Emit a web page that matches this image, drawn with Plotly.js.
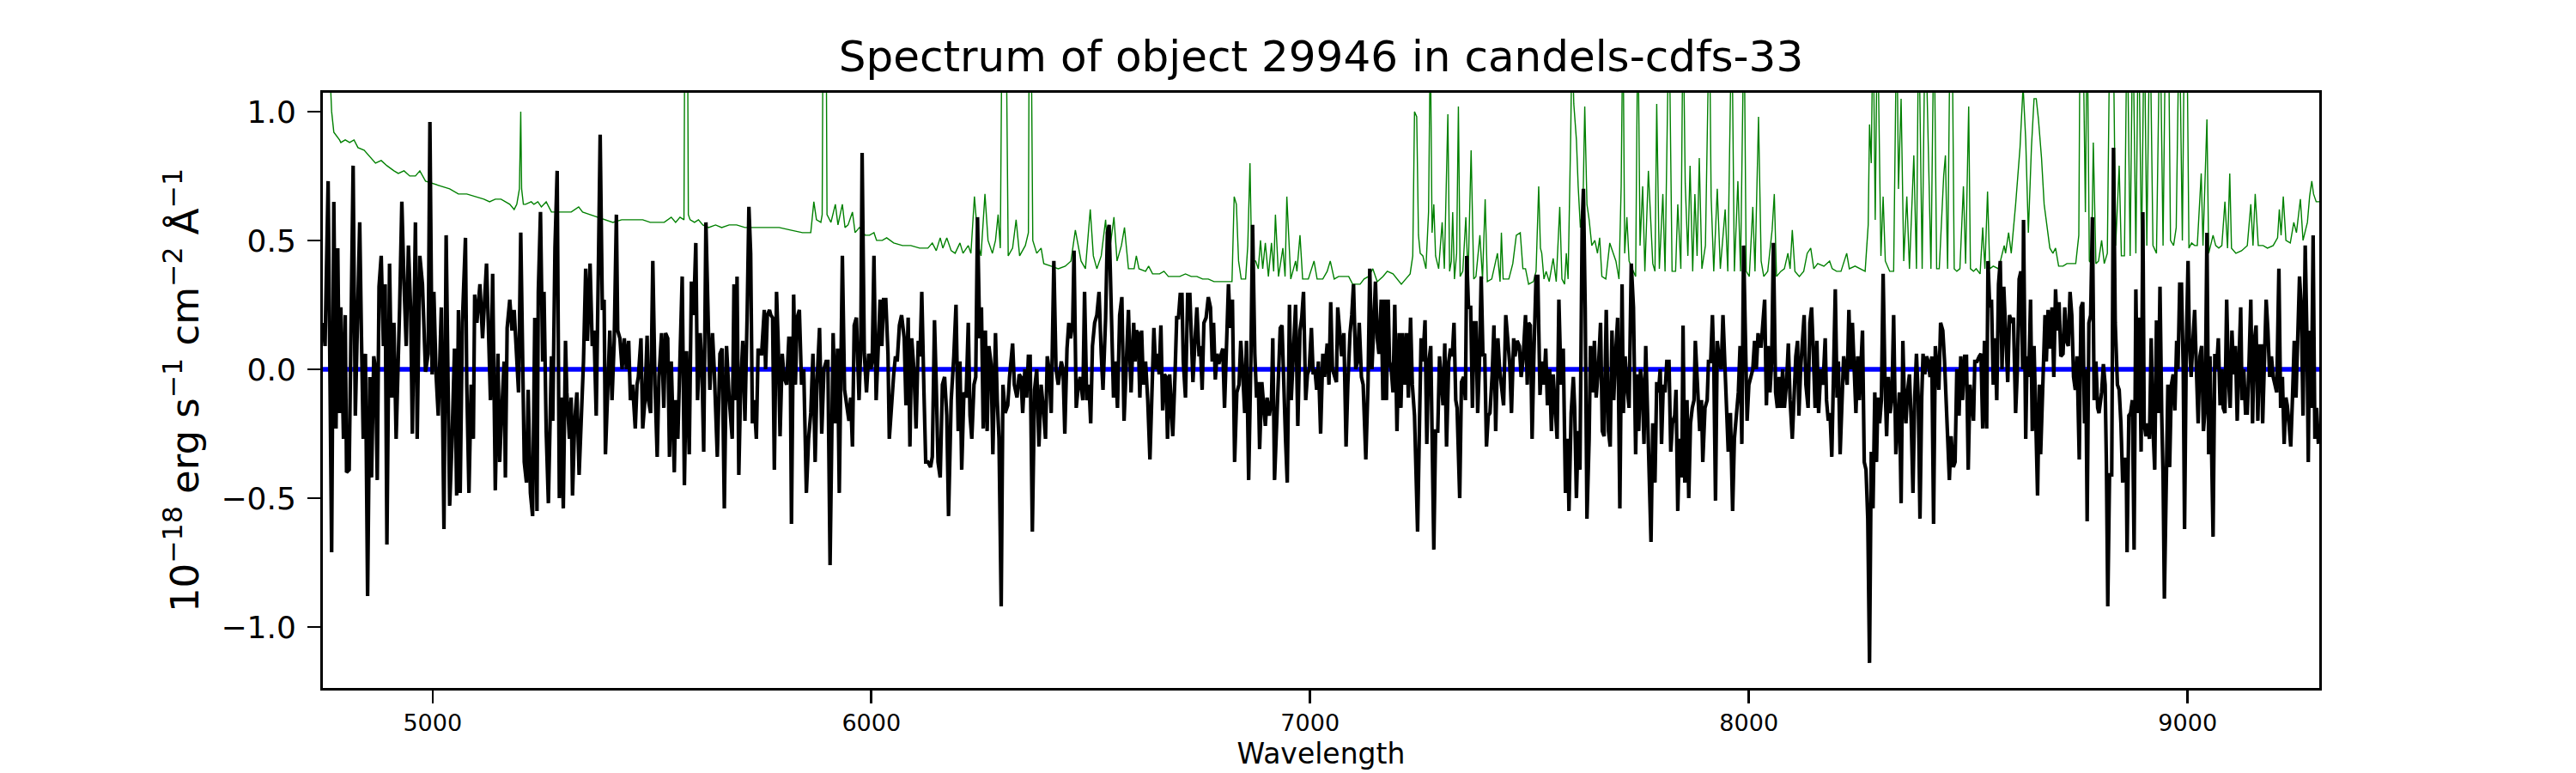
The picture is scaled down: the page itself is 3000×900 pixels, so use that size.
<!DOCTYPE html>
<html>
<head>
<meta charset="utf-8">
<script src="https://cdn.plot.ly/plotly-3.0.1.min.js"></script>
<style>
  html, body { margin: 0; padding: 0; background: #fff; }
  #chart { width: 3000px; height: 900px; }
</style>
</head>
<body>
<div id="chart"></div>
<script>
/* Flux readings, [wavelength, flux] in five pieces */
const flux1 = [
  [4751, 0.18], [4755, 0.09], [4762, 0.73], [4767, -0.23], [4770, -0.71], [4775, 0.65], [4780, -0.23], [4784, 0.47],
  [4788, -0.17], [4791, 0.24], [4797, -0.27], [4801, 0.21], [4804, -0.40], [4810, -0.39], [4814, 0.24], [4819, 0.79],
  [4824, -0.18], [4829, 0.24], [4834, 0.57], [4838, 0.12], [4842, -0.27], [4847, 0.06], [4852, -0.88], [4857, -0.03],
  [4861, -0.42], [4866, 0.05], [4870, 0.0], [4874, -0.43], [4878, 0.32], [4883, 0.44], [4888, 0.09], [4892, 0.33],
  [4896, -0.68], [4902, 0.41], [4907, -0.11], [4912, 0.18], [4917, -0.27], [4925, 0.24], [4930, 0.65], [4935, 0.33],
  [4940, 0.09], [4945, 0.48], [4950, 0.24], [4954, -0.25], [4961, 0.57], [4965, -0.27], [4971, 0.44], [4977, 0.33],
  [4984, -0.01], [4990, 0.06], [4994, 0.96], [4999, -0.02], [5003, 0.30], [5008, -0.02], [5013, -0.18], [5020, 0.24],
  [5026, -0.62], [5031, 0.52], [5036, -0.24], [5039, -0.53], [5044, -0.30], [5050, 0.08], [5055, -0.49], [5059, 0.23],
  [5063, -0.48], [5068, 0.18], [5075, 0.51], [5078, -0.06], [5083, -0.48], [5088, -0.06], [5093, -0.27], [5096, 0.29],
  [5101, 0.18], [5108, 0.33], [5114, 0.12], [5117, 0.24], [5123, 0.41], [5127, 0.18], [5132, -0.12], [5137, 0.37],
  [5143, -0.47], [5149, 0.06], [5153, -0.36], [5156, -0.23], [5163, 0.03], [5166, -0.42], [5170, 0.16], [5176, 0.27],
  [5181, 0.15], [5186, 0.23], [5191, 0.05], [5196, -0.09], [5201, 0.53], [5205, -0.03], [5209, -0.36], [5214, -0.44],
  [5218, -0.08], [5223, -0.48], [5228, -0.57], [5233, 0.20], [5238, -0.55], [5241, 0.30], [5246, 0.61], [5251, 0.03],
  [5254, 0.30], [5259, -0.24], [5264, -0.52], [5271, 0.05], [5274, -0.20], [5279, 0.47], [5284, 0.77], [5289, -0.50],
  [5293, -0.11], [5298, -0.54], [5303, 0.11], [5306, -0.09], [5312, -0.27], [5316, -0.11], [5319, -0.49], [5324, -0.20],
  [5329, -0.09], [5334, -0.41], [5339, -0.20], [5344, 0.03], [5349, 0.39], [5353, 0.11], [5359, 0.41], [5364, 0.09],
  [5368, 0.15], [5373, -0.18], [5378, 0.40], [5382, 0.91], [5387, 0.23], [5391, 0.27], [5394, -0.33], [5399, -0.06],
  [5404, 0.15], [5409, -0.12], [5414, 0.11], [5419, 0.60], [5422, 0.15], [5427, 0.12], [5432, 0.0], [5437, 0.12],
  [5442, 0.0], [5447, 0.11], [5451, -0.12], [5456, -0.06], [5462, -0.23], [5466, -0.06], [5469, -0.03], [5475, 0.12],
  [5479, -0.23], [5484, -0.12], [5489, 0.13], [5492, -0.12], [5497, -0.17], [5502, 0.42], [5507, -0.06], [5512, -0.34],
  [5516, -0.03], [5522, 0.14], [5527, -0.15], [5531, 0.14], [5536, 0.12], [5540, -0.34], [5544, 0.03], [5551, -0.40],
  [5554, -0.12], [5559, -0.27], [5564, 0.03], [5569, 0.36], [5574, -0.45], [5579, 0.07], [5585, -0.33], [5590, 0.34],
  [5595, 0.21], [5600, 0.49], [5604, -0.12], [5610, 0.14], [5614, 0.0], [5618, -0.32], [5623, 0.57], [5627, 0.27],
  [5632, -0.08], [5638, 0.14], [5642, 0.0], [5649, -0.34], [5655, 0.06], [5660, 0.08], [5665, -0.54], [5670, 0.09],
  [5676, -0.11],
];

const flux2 = [
  [5683, -0.27], [5687, 0.33], [5691, -0.12], [5694, 0.36], [5698, -0.41], [5702, -0.08], [5707, 0.11], [5712, -0.20],
  [5717, 0.21], [5721, 0.63], [5725, 0.45], [5729, -0.21], [5733, -0.12], [5738, -0.27], [5742, 0.08], [5745, 0.06],
  [5750, 0.06], [5756, 0.23], [5759, 0.0], [5763, 0.21], [5768, 0.23], [5771, 0.21], [5775, 0.20], [5779, -0.39],
  [5784, 0.30], [5788, 0.09], [5792, -0.26], [5797, 0.06], [5801, -0.03], [5807, -0.06], [5812, 0.12], [5815, 0.12],
  [5818, -0.60], [5823, 0.29], [5827, -0.06], [5831, 0.20], [5836, 0.23], [5841, -0.06], [5846, 0.0], [5852, -0.48],
  [5857, -0.27], [5862, -0.17], [5867, 0.06], [5872, -0.36], [5876, -0.06], [5882, 0.16], [5887, -0.25], [5892, 0.0],
  [5897, 0.03], [5901, 0.03], [5906, -0.76], [5913, 0.14], [5918, -0.21], [5923, 0.08], [5927, -0.48], [5934, 0.44],
  [5939, -0.08], [5944, -0.15], [5949, -0.20], [5953, -0.11], [5957, -0.30], [5961, 0.17], [5966, 0.20], [5972, -0.12],
  [5976, 0.09], [5979, 0.84], [5984, 0.06], [5989, -0.09], [5994, 0.06], [5999, 0.0], [6002, 0.03], [6006, 0.44],
  [6011, -0.12], [6015, 0.05], [6020, 0.27], [6024, 0.09], [6028, 0.27], [6033, 0.27], [6038, 0.06], [6041, -0.27],
  [6046, -0.12], [6051, -0.02], [6055, 0.05], [6059, 0.03], [6064, 0.17], [6069, 0.21], [6075, 0.12], [6079, -0.14],
  [6084, 0.20], [6088, -0.30], [6092, 0.12], [6097, 0.0], [6102, -0.23], [6107, 0.11], [6111, 0.05], [6115, 0.30],
  [6120, -0.09], [6124, -0.36], [6129, -0.36], [6135, -0.38], [6139, -0.34], [6144, 0.19], [6148, -0.06], [6152, -0.36],
  [6157, -0.42], [6162, -0.06], [6167, -0.03], [6172, -0.18], [6176, -0.57], [6182, -0.12], [6188, 0.05], [6193, 0.25],
  [6198, -0.24], [6202, 0.03], [6206, -0.39], [6211, -0.09], [6216, -0.11], [6221, 0.18], [6225, -0.18], [6229, -0.27],
  [6234, -0.06], [6238, -0.03], [6242, 0.59], [6247, 0.12], [6251, 0.24], [6255, -0.23], [6260, 0.15], [6264, -0.24],
  [6268, 0.09], [6273, 0.02], [6277, -0.33], [6283, 0.14], [6287, -0.12], [6291, -0.27], [6296, -0.92], [6300, -0.06],
  [6305, -0.17], [6311, -0.14], [6315, -0.03], [6322, 0.10], [6326, -0.06], [6332, -0.11], [6337, -0.02], [6341, -0.03],
  [6345, -0.17], [6350, 0.0], [6354, -0.11], [6358, 0.05], [6362, 0.05], [6367, -0.63], [6372, -0.08], [6377, 0.0],
  [6382, -0.30], [6387, -0.06], [6392, -0.15], [6397, -0.27], [6401, 0.05], [6405, 0.0], [6410, -0.17], [6416, 0.42],
  [6421, 0.0], [6426, -0.06], [6433, 0.03], [6437, 0.0], [6441, -0.25], [6446, 0.08], [6450, 0.18], [6454, 0.12],
  [6459, 0.18], [6462, 0.46], [6467, -0.15], [6472, -0.06], [6476, -0.03], [6482, -0.12], [6486, 0.30], [6491, -0.12],
  [6496, -0.06], [6500, -0.21], [6504, 0.09], [6509, 0.18], [6514, 0.21], [6519, 0.30], [6524, 0.06], [6528, -0.08],
  [6534, 0.20], [6538, 0.53], [6542, 0.56], [6547, 0.17], [6552, -0.11], [6556, 0.03], [6561, -0.15], [6566, 0.21],
  [6571, 0.28], [6576, -0.20], [6581, 0.03], [6586, 0.23], [6592, -0.09], [6598, 0.18],
];

const flux3 = [
  [6601, 0.03], [6604, 0.15], [6608, 0.14], [6612, -0.11], [6616, 0.15], [6620, -0.06], [6625, 0.03], [6630, -0.12],
  [6635, -0.35], [6640, -0.06], [6644, 0.16], [6648, 0.0], [6652, 0.06], [6656, -0.02], [6660, 0.17], [6664, -0.16],
  [6668, -0.02], [6672, -0.03], [6675, -0.27], [6680, -0.02], [6683, -0.15], [6687, -0.26], [6692, -0.03], [6696, 0.20],
  [6700, 0.20], [6704, 0.29], [6708, 0.29], [6711, 0.03], [6716, -0.11], [6721, 0.29], [6726, 0.29], [6729, 0.15],
  [6733, -0.05], [6737, 0.09], [6742, 0.24], [6747, 0.05], [6750, 0.09], [6754, -0.08], [6758, 0.18], [6763, 0.20],
  [6768, 0.28], [6773, 0.24], [6777, 0.03], [6780, 0.18], [6784, -0.04], [6788, 0.06], [6792, 0.02], [6796, 0.05],
  [6801, 0.08], [6805, -0.15], [6809, 0.05], [6814, 0.33], [6818, 0.16], [6823, 0.27], [6828, -0.36], [6833, -0.09],
  [6838, -0.06], [6842, 0.11], [6846, 0.0], [6851, -0.17], [6855, 0.11], [6860, -0.43], [6865, 0.03], [6869, 0.56],
  [6874, 0.06], [6878, -0.11], [6882, -0.05], [6885, -0.31], [6890, -0.05], [6894, -0.12], [6898, -0.22], [6902, -0.11],
  [6907, -0.18], [6912, -0.12], [6915, 0.12], [6919, -0.43], [6923, -0.24], [6928, 0.0], [6932, 0.16], [6936, 0.17],
  [6940, -0.11], [6944, -0.27], [6948, -0.44], [6953, 0.25], [6957, -0.12], [6962, 0.05], [6967, 0.25], [6972, -0.22],
  [6977, 0.15], [6981, 0.20], [6985, 0.30], [6990, -0.12], [6994, -0.02], [6998, 0.0], [7003, 0.16], [7007, -0.02],
  [7011, 0.0], [7015, -0.08], [7019, 0.03], [7024, -0.25], [7029, 0.06], [7033, -0.03], [7039, 0.10], [7043, -0.06],
  [7047, 0.26], [7051, 0.0], [7056, -0.03], [7060, -0.05], [7063, 0.24], [7068, 0.12], [7072, 0.05], [7077, 0.14],
  [7082, -0.30], [7086, -0.06], [7091, 0.14], [7095, 0.21], [7099, 0.33], [7104, 0.0], [7108, 0.03], [7112, 0.18],
  [7117, -0.03], [7121, -0.06], [7127, -0.35], [7132, -0.06], [7136, 0.39], [7141, 0.0], [7145, 0.19], [7149, 0.34],
  [7153, 0.12], [7157, 0.06], [7162, 0.27], [7166, -0.12], [7170, 0.27], [7174, -0.12], [7178, 0.27], [7181, 0.03],
  [7185, 0.0], [7189, -0.09], [7193, 0.25], [7198, -0.24], [7203, 0.14], [7207, -0.15], [7211, 0.14], [7215, -0.06],
  [7220, 0.14], [7224, -0.11], [7229, 0.20], [7233, -0.06], [7238, -0.18], [7241, -0.39], [7245, -0.63], [7249, -0.24],
  [7253, 0.12], [7257, 0.03], [7262, 0.19], [7266, -0.29], [7270, 0.02], [7275, 0.09], [7278, -0.29], [7282, -0.70],
  [7286, -0.24], [7291, -0.24], [7295, 0.05], [7299, -0.06], [7303, -0.14], [7307, 0.10], [7311, -0.30], [7316, 0.03],
  [7320, 0.08], [7324, 0.05], [7328, 0.18], [7332, -0.12], [7335, -0.15], [7341, -0.50], [7345, -0.05], [7350, -0.03],
  [7354, -0.12], [7357, 0.44], [7361, 0.24], [7366, 0.24], [7370, -0.15], [7374, 0.18], [7378, 0.18], [7382, -0.17],
  [7386, 0.03], [7390, 0.36], [7394, 0.05], [7398, 0.06], [7402, -0.30], [7406, -0.18], [7410, -0.17], [7415, -0.02],
  [7419, 0.17], [7423, -0.24], [7428, 0.12], [7432, 0.0], [7436, -0.06], [7441, -0.14], [7446, 0.21], [7451, 0.12],
  [7455, 0.02], [7459, -0.17], [7464, 0.12], [7467, 0.05], [7472, 0.11], [7477, 0.09], [7481, -0.03], [7485, 0.03],
  [7491, 0.21], [7495, -0.06], [7498, 0.18], [7502, 0.17], [7506, -0.27], [7510, 0.05], [7515, 0.36],
];

const flux4 = [
  [7519, 0.36], [7524, -0.10], [7528, 0.03], [7533, -0.06], [7537, 0.08], [7541, -0.14], [7546, 0.0], [7550, -0.24],
  [7554, -0.02], [7559, -0.15], [7563, -0.27], [7567, 0.27], [7572, -0.06], [7577, 0.08], [7582, -0.48], [7587, -0.27],
  [7590, -0.55], [7595, -0.17], [7600, -0.03], [7603, -0.15], [7607, -0.50], [7611, -0.24], [7615, -0.39], [7620, 0.55],
  [7623, 0.70], [7627, 0.24], [7631, -0.58], [7636, -0.27], [7639, 0.09], [7644, -0.09], [7648, 0.11], [7652, -0.11],
  [7657, 0.0], [7662, 0.18], [7666, -0.24], [7670, -0.26], [7675, 0.23], [7680, -0.24], [7684, -0.30], [7688, 0.15],
  [7692, -0.12], [7696, 0.05], [7701, 0.20], [7706, -0.54], [7711, 0.33], [7714, -0.17], [7718, 0.05], [7722, -0.06],
  [7727, -0.15], [7732, 0.41], [7737, 0.24], [7742, -0.33], [7745, -0.02], [7749, -0.24], [7753, 0.0], [7757, -0.06],
  [7761, -0.29], [7765, 0.09], [7770, -0.23], [7773, -0.29], [7777, -0.67], [7781, -0.21], [7786, -0.44], [7790, -0.05],
  [7794, -0.09], [7798, 0.0], [7801, -0.29], [7805, -0.06], [7809, -0.09], [7813, 0.03], [7818, 0.03], [7822, -0.32],
  [7826, -0.21], [7831, -0.18], [7834, -0.08], [7838, -0.55], [7842, -0.27], [7847, -0.42], [7850, 0.17], [7854, -0.44],
  [7859, -0.12], [7863, -0.50], [7867, -0.21], [7871, -0.15], [7875, -0.12], [7878, 0.11], [7884, -0.09], [7888, -0.24],
  [7892, -0.12], [7895, -0.36], [7900, -0.15], [7905, -0.12], [7908, 0.03], [7913, 0.03], [7917, 0.21], [7920, 0.03],
  [7924, -0.51], [7928, 0.11], [7933, 0.03], [7937, 0.0], [7941, 0.21], [7945, 0.03], [7949, -0.21], [7953, -0.32],
  [7958, -0.17], [7963, -0.55], [7967, -0.27], [7972, -0.15], [7976, -0.09], [7980, 0.09], [7984, -0.29], [7988, 0.48],
  [7992, 0.05], [7996, -0.20], [8000, -0.06], [8004, -0.03], [8009, 0.0], [8013, 0.11], [8017, 0.0], [8021, 0.14],
  [8024, 0.09], [8028, 0.09], [8032, 0.18], [8036, 0.27], [8040, -0.14], [8044, 0.09], [8048, -0.09], [8052, 0.03],
  [8056, 0.49], [8061, -0.09], [8065, -0.15], [8069, -0.03], [8073, -0.15], [8077, 0.0], [8081, -0.15], [8086, -0.05],
  [8090, 0.10], [8094, -0.12], [8099, -0.27], [8103, -0.06], [8107, 0.05], [8111, 0.11], [8114, -0.18], [8118, 0.0],
  [8122, 0.12], [8126, 0.21], [8130, -0.06], [8135, -0.15], [8139, 0.18], [8143, 0.24], [8147, 0.06], [8151, -0.15],
  [8155, 0.11], [8159, -0.17], [8164, 0.0], [8169, -0.06], [8174, 0.12], [8177, -0.12], [8181, -0.20], [8185, -0.17],
  [8189, -0.34], [8193, 0.05], [8197, 0.31], [8201, -0.11], [8204, 0.03], [8208, -0.33], [8212, -0.09], [8216, 0.05],
  [8220, 0.0], [8224, -0.06], [8228, 0.23], [8232, 0.0], [8236, 0.18], [8240, 0.0], [8244, -0.17], [8248, 0.05],
  [8252, -0.12], [8255, 0.0], [8259, 0.15], [8263, -0.36], [8267, -0.39], [8271, -0.58], [8275, -1.14], [8279, -0.32],
  [8283, -0.54], [8287, -0.09], [8291, -0.36], [8294, -0.11], [8298, -0.21], [8302, -0.12], [8306, 0.37], [8310, -0.03],
  [8314, -0.26], [8318, -0.03], [8322, -0.17], [8326, -0.11], [8330, 0.21], [8335, -0.33], [8339, -0.17], [8343, -0.09],
  [8347, -0.52], [8351, 0.11], [8354, -0.09], [8358, -0.21], [8362, -0.08], [8366, -0.02], [8370, -0.20], [8374, -0.48],
  [8378, -0.11], [8382, 0.06], [8386, -0.11], [8390, -0.58], [8394, -0.11], [8397, 0.06], [8401, -0.02], [8405, 0.05],
  [8409, 0.03], [8413, -0.03], [8417, 0.05], [8421, -0.60], [8425, 0.09], [8429, 0.0], [8433, -0.08], [8437, 0.18],
];

const flux5 = [
  [8442, 0.15], [8446, 0.03], [8452, -0.27], [8457, -0.43], [8461, -0.26], [8466, -0.38], [8470, -0.36], [8474, 0.0],
  [8479, -0.18], [8483, 0.05], [8487, -0.12], [8492, 0.05], [8496, 0.05], [8500, -0.39], [8504, -0.06], [8508, -0.12],
  [8512, -0.20], [8515, 0.03], [8520, 0.03], [8525, 0.05], [8529, 0.06], [8533, -0.23], [8537, 0.11], [8542, -0.23],
  [8545, 0.42], [8549, 0.24], [8553, 0.27], [8557, -0.06], [8561, 0.12], [8565, -0.12], [8569, 0.33], [8573, 0.42],
  [8577, 0.0], [8581, 0.32], [8585, 0.18], [8590, -0.05], [8594, 0.21], [8599, 0.18], [8603, 0.20], [8608, -0.17],
  [8612, 0.0], [8616, 0.35], [8620, 0.38], [8624, 0.0], [8626, 0.58], [8631, -0.27], [8634, 0.05], [8638, -0.03],
  [8642, 0.27], [8646, -0.24], [8650, 0.09], [8654, -0.27], [8658, -0.49], [8662, -0.06], [8665, -0.33], [8670, -0.06],
  [8675, 0.21], [8678, 0.03], [8682, 0.23], [8686, 0.08], [8691, 0.24], [8695, -0.03], [8699, 0.31], [8703, 0.15],
  [8707, 0.26], [8711, 0.05], [8716, 0.06], [8720, 0.24], [8724, 0.11], [8728, 0.09], [8732, 0.30], [8736, 0.21],
  [8740, -0.03], [8744, -0.08], [8748, 0.05], [8753, -0.35], [8757, 0.24], [8761, 0.26], [8765, -0.21], [8768, 0.0],
  [8771, -0.59], [8775, 0.18], [8779, 0.21], [8783, 0.59], [8787, -0.12], [8791, 0.03], [8795, -0.15], [8798, -0.17],
  [8804, -0.09], [8808, 0.02], [8812, -0.06], [8815, -0.38], [8818, -0.92], [8822, -0.41], [8827, -0.41], [8831, 0.86],
  [8835, 0.18], [8840, -0.06], [8844, -0.08], [8848, -0.21], [8852, -0.44], [8856, -0.35], [8860, -0.35], [8862, -0.71],
  [8866, -0.18], [8870, -0.17], [8874, -0.12], [8878, -0.70], [8882, 0.31], [8886, -0.17], [8890, 0.20], [8894, -0.32],
  [8898, 0.61], [8901, -0.21], [8905, -0.26], [8909, -0.21], [8913, -0.27], [8917, 0.12], [8921, -0.23], [8925, -0.39],
  [8929, 0.19], [8933, -0.17], [8937, 0.32], [8941, -0.18], [8944, -0.41], [8947, -0.89], [8951, -0.42], [8955, -0.06],
  [8959, -0.38], [8963, -0.06], [8967, -0.02], [8971, -0.16], [8975, 0.11], [8978, 0.0], [8982, 0.33], [8986, 0.33],
  [8990, 0.0], [8993, -0.62], [8997, 0.09], [9001, 0.42], [9004, 0.11], [9008, -0.03], [9012, 0.11], [9016, 0.23],
  [9020, 0.0], [9024, -0.21], [9028, 0.05], [9032, 0.09], [9036, -0.24], [9040, -0.15], [9044, 0.53], [9048, -0.33],
  [9051, 0.05], [9055, -0.39], [9058, -0.65], [9062, 0.06], [9066, 0.0], [9070, 0.12], [9074, -0.14], [9078, 0.0],
  [9081, -0.15], [9085, -0.17], [9089, 0.27], [9093, -0.03], [9097, -0.15], [9101, 0.15], [9105, -0.02], [9109, 0.09],
  [9113, -0.20], [9117, 0.03], [9121, 0.24], [9124, -0.12], [9128, 0.0], [9132, -0.17], [9136, -0.17], [9140, 0.03],
  [9144, 0.27], [9148, -0.21], [9152, 0.11], [9156, 0.17], [9160, -0.20], [9164, 0.09], [9168, 0.09], [9171, -0.21],
  [9175, 0.05], [9179, 0.27], [9183, 0.15], [9187, -0.03], [9191, 0.05], [9195, -0.03], [9199, -0.06], [9203, -0.09],
  [9208, 0.39], [9212, -0.15], [9216, -0.03], [9220, -0.29], [9224, -0.11], [9227, -0.14], [9231, -0.21], [9235, -0.30],
  [9239, -0.11], [9243, 0.11], [9247, -0.11], [9251, 0.12], [9255, 0.36], [9259, 0.24], [9263, -0.18], [9268, 0.48],
  [9272, 0.12], [9275, -0.36], [9278, 0.15], [9282, -0.15], [9286, 0.52], [9290, -0.27], [9294, -0.15], [9298, -0.29],
];

/* Noise spectrum (green), [wavelength, sigma]; sky lines run off the top */
const noise1 = [
  [4751, 1.3], [4765, 1.2], [4770, 1.0], [4775, 0.92], [4788, 0.89], [4791, 0.88], [4801, 0.89], [4811, 0.88],
  [4821, 0.89], [4830, 0.86], [4844, 0.85], [4860, 0.82], [4870, 0.80], [4883, 0.81], [4896, 0.79], [4912, 0.77],
  [4922, 0.76], [4935, 0.77], [4948, 0.75], [4961, 0.75], [4971, 0.77], [4984, 0.73], [5000, 0.72], [5020, 0.71],
  [5039, 0.70], [5059, 0.68], [5078, 0.68], [5098, 0.67], [5117, 0.66], [5130, 0.65], [5143, 0.66], [5156, 0.66],
  [5176, 0.64], [5186, 0.62], [5192, 0.64], [5198, 0.70], [5201, 1.0], [5203, 0.70], [5207, 0.64], [5212, 0.64],
  [5225, 0.65], [5231, 0.64], [5240, 0.65], [5248, 0.63], [5259, 0.65], [5271, 0.61], [5287, 0.61], [5306, 0.61],
  [5316, 0.61], [5333, 0.63], [5342, 0.61], [5359, 0.60], [5375, 0.59], [5391, 0.58], [5411, 0.57], [5431, 0.58],
  [5447, 0.58], [5463, 0.58], [5479, 0.58], [5496, 0.57], [5512, 0.57], [5528, 0.57], [5544, 0.59], [5554, 0.57],
  [5564, 0.59], [5573, 0.58], [5575, 1.4], [5578, 1.2], [5581, 1.4], [5583, 0.6], [5587, 0.58], [5597, 0.57],
  [5606, 0.58], [5616, 0.56], [5629, 0.55], [5645, 0.56], [5659, 0.55], [5676, 0.56],
];

const noise2 = [
  [5693, 0.56], [5712, 0.55], [5738, 0.55], [5768, 0.55], [5790, 0.55], [5816, 0.54], [5843, 0.53], [5862, 0.53],
  [5869, 0.65], [5875, 0.58], [5885, 0.57], [5888, 0.6], [5890, 1.4], [5893, 1.2], [5897, 1.4], [5899, 0.6],
  [5908, 0.57], [5918, 0.64], [5924, 0.56], [5934, 0.64], [5940, 0.55], [5947, 0.56], [5957, 0.61], [5963, 0.53],
  [5973, 0.55], [5986, 0.52], [5996, 0.52], [6006, 0.53], [6012, 0.50], [6025, 0.50], [6035, 0.51], [6051, 0.49],
  [6071, 0.48], [6090, 0.48], [6110, 0.47], [6129, 0.47], [6139, 0.49], [6148, 0.46], [6157, 0.51], [6163, 0.47],
  [6172, 0.51], [6182, 0.46], [6191, 0.45], [6202, 0.49], [6209, 0.45], [6221, 0.48], [6227, 0.45], [6235, 0.67],
  [6244, 0.48], [6250, 0.44], [6259, 0.68], [6266, 0.50], [6276, 0.45], [6283, 0.50], [6289, 0.60], [6294, 0.47],
  [6298, 1.4], [6302, 1.3], [6307, 1.4], [6312, 0.44], [6322, 0.47], [6330, 0.58], [6338, 0.44], [6351, 0.48],
  [6358, 0.53], [6360, 1.4], [6364, 1.4], [6368, 0.5], [6377, 0.45], [6387, 0.47], [6393, 0.41], [6410, 0.40],
  [6426, 0.39], [6442, 0.40], [6455, 0.42], [6465, 0.54], [6472, 0.48], [6478, 0.42], [6488, 0.39], [6499, 0.62],
  [6506, 0.44], [6514, 0.39], [6524, 0.44], [6534, 0.58], [6540, 0.42], [6553, 0.59], [6560, 0.42], [6570, 0.48],
  [6577, 0.55], [6586, 0.39], [6599, 0.39],
];

const noise3 = [
  [6604, 0.44], [6610, 0.39], [6625, 0.38], [6632, 0.40], [6641, 0.37], [6657, 0.37], [6667, 0.38], [6677, 0.36],
  [6690, 0.36], [6703, 0.36], [6716, 0.37], [6729, 0.36], [6742, 0.36], [6755, 0.35], [6768, 0.35], [6781, 0.34],
  [6801, 0.34], [6822, 0.34], [6827, 0.67], [6832, 0.64], [6837, 0.42], [6843, 0.35], [6853, 0.35], [6858, 0.48],
  [6863, 0.80], [6867, 0.42], [6876, 0.42], [6882, 0.39], [6887, 0.50], [6892, 0.39], [6898, 0.49], [6905, 0.36],
  [6912, 0.49], [6917, 0.38], [6921, 0.60], [6928, 0.36], [6938, 0.47], [6943, 0.36], [6947, 0.67], [6956, 0.35],
  [6967, 0.42], [6970, 0.38], [6977, 0.52], [6983, 0.35], [6996, 0.35], [7003, 0.39], [7009, 0.42], [7016, 0.35],
  [7029, 0.35], [7039, 0.38], [7046, 0.42], [7055, 0.35], [7065, 0.36], [7075, 0.36], [7088, 0.36], [7097, 0.33],
  [7114, 0.33], [7123, 0.35], [7133, 0.36], [7143, 0.39], [7153, 0.34], [7166, 0.36], [7176, 0.38], [7189, 0.37],
  [7198, 0.35], [7208, 0.33], [7218, 0.35], [7228, 0.37], [7234, 0.44], [7238, 1.0], [7243, 0.98], [7247, 0.52],
  [7251, 0.45], [7257, 0.44], [7264, 0.39], [7270, 0.61], [7274, 1.3], [7278, 0.53], [7282, 0.64], [7286, 0.44],
  [7293, 0.39], [7296, 0.45], [7301, 0.57], [7306, 0.39], [7309, 0.61], [7314, 0.99], [7318, 0.38], [7322, 0.42],
  [7325, 0.61], [7329, 0.35], [7334, 0.45], [7338, 1.02], [7342, 0.36], [7348, 0.38], [7355, 0.59], [7360, 0.35],
  [7367, 0.85], [7373, 0.35], [7378, 0.36], [7387, 0.52], [7393, 0.35], [7399, 0.66], [7404, 0.34], [7414, 0.35],
  [7427, 0.45], [7433, 0.34], [7436, 0.53], [7440, 0.35], [7453, 0.35], [7462, 0.41], [7470, 0.52], [7479, 0.53],
  [7485, 0.39], [7491, 0.39], [7498, 0.33],
];

const noise4 = [
  [7509, 0.34], [7515, 0.38], [7521, 0.71], [7525, 0.47], [7528, 0.45], [7533, 0.35], [7538, 0.38], [7545, 0.34],
  [7554, 0.43], [7561, 0.34], [7569, 0.63], [7574, 0.35], [7580, 0.33], [7584, 0.45], [7588, 0.35], [7594, 0.91],
  [7597, 1.3], [7601, 1.03], [7607, 0.89], [7611, 0.71], [7616, 0.55], [7622, 0.64], [7626, 1.02], [7631, 0.64],
  [7636, 0.58], [7642, 0.48], [7649, 0.50], [7655, 0.45], [7660, 0.51], [7665, 0.36], [7674, 0.35], [7683, 0.49],
  [7691, 0.45], [7697, 0.42], [7704, 0.35], [7709, 0.71], [7713, 1.4], [7717, 0.45], [7722, 0.59], [7727, 0.42],
  [7734, 0.39], [7742, 0.36], [7747, 1.4], [7752, 0.48], [7758, 0.71], [7763, 0.38], [7771, 0.77], [7776, 0.61],
  [7781, 0.41], [7786, 0.38], [7790, 1.03], [7796, 0.39], [7804, 0.68], [7809, 0.38], [7818, 1.4], [7825, 0.38],
  [7833, 0.38], [7838, 0.64], [7845, 0.39], [7850, 1.4], [7855, 0.72], [7861, 0.44], [7866, 0.79], [7872, 0.38],
  [7877, 0.68], [7882, 0.44], [7887, 0.82], [7893, 0.39], [7901, 0.48], [7910, 1.4], [7914, 0.67], [7920, 0.38],
  [7928, 0.70], [7935, 0.39], [7946, 0.62], [7952, 0.38], [7961, 1.4], [7967, 0.38], [7975, 0.73], [7981, 0.38],
  [7989, 1.4], [7994, 0.38], [8001, 0.36], [8009, 0.63], [8014, 0.38], [8022, 0.98], [8028, 0.42], [8034, 0.36],
  [8043, 0.38], [8053, 0.54], [8058, 0.68], [8063, 0.36], [8073, 0.38], [8081, 0.39], [8089, 0.45], [8094, 0.39],
  [8099, 0.54], [8105, 0.38], [8115, 0.36], [8125, 0.38], [8133, 0.45], [8141, 0.47], [8148, 0.39], [8157, 0.41],
  [8171, 0.40], [8184, 0.42], [8190, 0.39], [8200, 0.38], [8210, 0.38], [8223, 0.45], [8229, 0.39], [8242, 0.40],
  [8255, 0.39], [8265, 0.38], [8272, 0.56], [8275, 0.95], [8279, 0.80], [8283, 1.4], [8288, 0.58], [8293, 1.4],
  [8301, 0.44], [8306, 0.67], [8311, 0.42], [8321, 0.38], [8330, 0.38], [8337, 1.4], [8341, 0.70], [8347, 1.05],
  [8353, 0.42], [8360, 0.67], [8366, 0.39], [8376, 0.83], [8382, 0.39], [8387, 1.4], [8395, 0.39], [8402, 1.4],
  [8409, 0.86], [8415, 0.39], [8422, 1.4], [8428, 0.39], [8434, 0.39],
];

const noise5 = [
  [8439, 0.56], [8444, 0.75], [8448, 0.83], [8453, 0.39], [8459, 1.4], [8463, 1.4], [8468, 0.39], [8474, 0.38],
  [8481, 0.39], [8489, 0.71], [8494, 0.41], [8501, 1.02], [8505, 0.39], [8512, 0.38], [8518, 0.39], [8527, 0.37],
  [8533, 0.55], [8538, 0.39], [8544, 0.69], [8549, 0.39], [8557, 0.40], [8569, 0.39], [8582, 0.48], [8585, 0.45],
  [8592, 0.53], [8598, 0.45], [8608, 0.64], [8618, 0.86], [8625, 1.1], [8631, 0.89], [8637, 0.53], [8644, 0.86],
  [8650, 1.05], [8655, 1.05], [8660, 0.97], [8667, 0.82], [8673, 0.64], [8680, 0.54], [8686, 0.47], [8693, 0.45],
  [8699, 0.47], [8706, 0.40], [8716, 0.40], [8725, 0.41], [8735, 0.41], [8745, 0.41], [8752, 0.52], [8755, 1.4],
  [8761, 1.4], [8767, 0.61], [8771, 1.4], [8776, 0.42], [8781, 0.41], [8785, 0.88], [8791, 0.41], [8797, 0.42],
  [8804, 0.50], [8810, 0.41], [8817, 0.45], [8823, 1.4], [8830, 1.4], [8836, 0.48], [8844, 0.79], [8849, 0.44],
  [8856, 0.44], [8862, 1.4], [8869, 0.44], [8875, 1.4], [8882, 0.45], [8888, 1.4], [8895, 0.44], [8901, 1.4],
  [8907, 0.48], [8914, 1.4], [8921, 0.48], [8929, 0.45], [8937, 1.4], [8944, 0.48], [8950, 1.4], [8956, 1.4],
  [8961, 0.50], [8968, 0.48], [8974, 0.55], [8981, 1.4], [8988, 0.50], [8993, 1.4], [8998, 1.4], [9003, 0.47],
  [9009, 0.49], [9016, 0.48], [9022, 0.48], [9031, 0.76], [9035, 0.48], [9044, 0.97], [9048, 0.45], [9058, 0.52],
  [9064, 0.48], [9071, 0.47], [9078, 0.48], [9085, 0.65], [9091, 0.47], [9096, 0.76], [9100, 0.47], [9110, 0.45],
  [9123, 0.46], [9136, 0.48], [9144, 0.64], [9149, 0.48], [9154, 0.68], [9161, 0.48], [9172, 0.48], [9182, 0.47],
  [9195, 0.48], [9205, 0.51], [9209, 0.62], [9213, 0.52], [9218, 0.67], [9224, 0.50], [9234, 0.49], [9242, 0.57],
  [9248, 0.53], [9257, 0.66], [9263, 0.50], [9273, 0.57], [9278, 0.67], [9283, 0.73], [9287, 0.68], [9293, 0.65],
  [9300, 0.65],
];

// model / continuum level drawn in blue
const modelWave = [4750, 9300];
const modelFlux = [0, 0];

const waveRange = [4750, 9300];
const fluxRange = [-1.237, 1.073];
const waveTicks = [5000, 6000, 7000, 8000, 9000];
const fluxTicks = [-1.0, -0.5, 0.0, 0.5, 1.0];
const fluxTickText = ['\u22121.0', '\u22120.5', '0.0', '0.5', '1.0'];

const joinPieces = (pieces) => {
  const rows = [].concat(...pieces);
  return { x: rows.map((r) => r[0]), y: rows.map((r) => r[1]) };
};

const flux = joinPieces([flux1, flux2, flux3, flux4, flux5]);
const noise = joinPieces([noise1, noise2, noise3, noise4, noise5]);

const traces = [
  {
    x: noise.x, y: noise.y, type: 'scatter', mode: 'lines',
    line: { color: '#008000', width: 1.4 }, hoverinfo: 'skip',
  },
  {
    x: modelWave, y: modelFlux, type: 'scatter', mode: 'lines',
    line: { color: '#0000ff', width: 5.5 }, hoverinfo: 'skip',
  },
  {
    x: flux.x, y: flux.y, type: 'scatter', mode: 'lines',
    line: { color: '#000000', width: 4.2, shape: 'linear' }, hoverinfo: 'skip',
  },
];

const axisCommon = {
  showgrid: false,
  zeroline: false,
  showline: true,
  mirror: true,
  linecolor: '#000',
  linewidth: 3,
  ticks: 'outside',
  ticklen: 15,
  tickwidth: 2.5,
  tickcolor: '#000',
  automargin: false,
};

const layout = {
  width: 3000,
  height: 900,
  margin: { l: 376, r: 299, t: 108, b: 99, pad: 0 },
  paper_bgcolor: '#fff',
  plot_bgcolor: '#fff',
  showlegend: false,
  font: { family: 'DejaVu Sans, sans-serif', color: '#000' },
  title: {
    text: 'Spectrum of object 29946 in candels-cdfs-33',
    font: { size: 50, color: '#000' },
    x: 0.5,
    xref: 'paper',
    y: 1 - 65 / 900,
    yref: 'container',
    yanchor: 'middle',
  },
  xaxis: {
    ...axisCommon,
    range: waveRange,
    tickmode: 'array',
    tickvals: waveTicks,
    ticktext: waveTicks.map(String),
    tickfont: { size: 27, color: '#000' },
    ticklabelstandoff: 0,
    title: { text: 'Wavelength', font: { size: 33, color: '#000' }, standoff: 10 },
  },
  yaxis: {
    ...axisCommon,
    range: fluxRange,
    tickmode: 'array',
    tickvals: fluxTicks,
    ticktext: fluxTickText,
    tickfont: { size: 36, color: '#000' },
    ticklabelstandoff: 6,
    title: {
      text: '10<sup>\u221218</sup> erg s<sup>\u22121</sup> cm<sup>\u22122</sup> \u00c5<sup>\u22121</sup>',
      font: { size: 45, color: '#000' },
      standoff: 12,
    },
  },
};

Plotly.newPlot('chart', traces, layout, { staticPlot: true, displayModeBar: false });
</script>
</body>
</html>
